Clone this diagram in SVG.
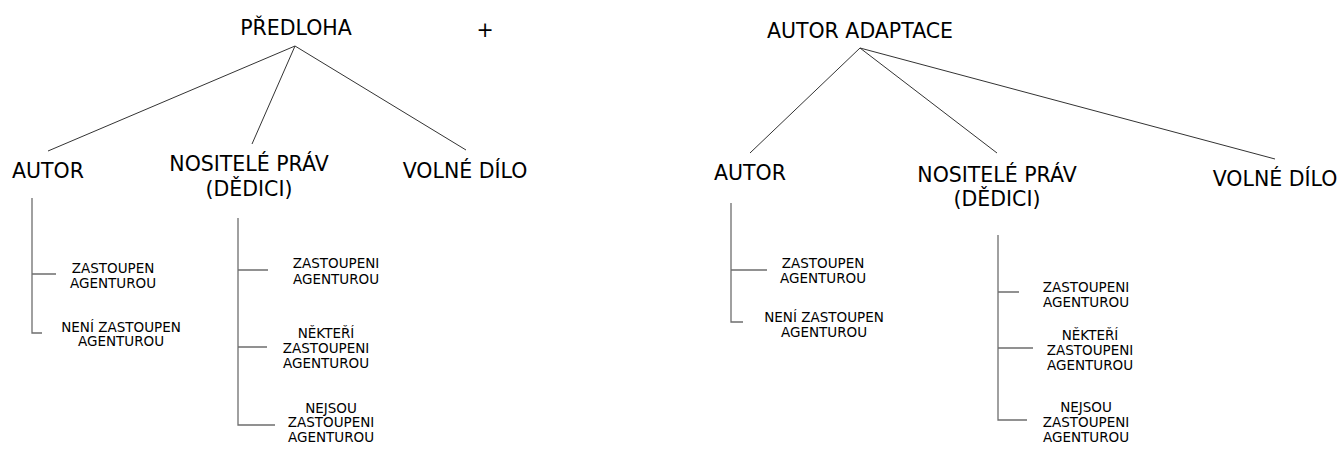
<svg xmlns="http://www.w3.org/2000/svg" width="1343" height="449" viewBox="0 0 1343 449">
<style>
.big{font-family:"DejaVu Sans","Liberation Sans",sans-serif;font-size:20.5px;fill:#000;text-anchor:middle}
.sm{font-family:"DejaVu Sans","Liberation Sans",sans-serif;font-size:13.5px;fill:#000;text-anchor:middle}
.tree{stroke:#333;stroke-width:1;fill:none}
.br{stroke:#6e6e6e;stroke-width:1.3;fill:none}
</style>
<rect width="1343" height="449" fill="#fff"/>
<g id="connectors">
<path class="tree" d="M295 46 L48 151 M295 46 L252 144 M295 46 L466 150"/>
<path class="tree" d="M860 48 L750 153 M860 48 L997 153 M860 48 L1275 159"/>
<path class="br" d="M32 198 V333 H42 M32 274 H56"/>
<path class="br" d="M238 218 V425 H275 M238 270 H268 M238 347 H267"/>
<path class="br" d="M731 203 V322 H743 M731 270 H767"/>
<path class="br" d="M998 235 V420 H1027 M998 292 H1019 M998 348 H1033"/>
</g>
<g id="predloha"><text class="big" x="296" y="35">PŘEDLOHA</text></g>
<g id="plus"><text class="big" x="485" y="37">+</text></g>
<g id="autor1"><text class="big" x="48" y="178">AUTOR</text></g>
<g id="nositele1"><text class="big" x="249" y="171">NOSITELÉ PRÁV</text><text class="big" x="249" y="196">(DĚDICI)</text></g>
<g id="volne1"><text class="big" x="465" y="178">VOLNÉ DÍLO</text></g>
<g id="a1z"><text class="sm" x="113" y="273">ZASTOUPEN</text><text class="sm" x="113" y="288">AGENTUROU</text></g>
<g id="a1n"><text class="sm" x="121" y="332">NENÍ ZASTOUPEN</text><text class="sm" x="121" y="346">AGENTUROU</text></g>
<g id="n1z"><text class="sm" x="336" y="268">ZASTOUPENI</text><text class="sm" x="336" y="284">AGENTUROU</text></g>
<g id="n1n"><text class="sm" x="326" y="338">NĚKTEŘÍ</text><text class="sm" x="326" y="353">ZASTOUPENI</text><text class="sm" x="326" y="368">AGENTUROU</text></g>
<g id="n1j"><text class="sm" x="331" y="413">NEJSOU</text><text class="sm" x="331" y="427">ZASTOUPENI</text><text class="sm" x="331" y="442">AGENTUROU</text></g>
<g id="adaptace"><text class="big" x="860" y="38">AUTOR ADAPTACE</text></g>
<g id="autor2"><text class="big" x="750" y="180">AUTOR</text></g>
<g id="nositele2"><text class="big" x="997" y="182">NOSITELÉ PRÁV</text><text class="big" x="997" y="206">(DĚDICI)</text></g>
<g id="volne2"><text class="big" x="1275" y="186">VOLNÉ DÍLO</text></g>
<g id="a2z"><text class="sm" x="823" y="268">ZASTOUPEN</text><text class="sm" x="823" y="283">AGENTUROU</text></g>
<g id="a2n"><text class="sm" x="824" y="322">NENÍ ZASTOUPEN</text><text class="sm" x="824" y="337">AGENTUROU</text></g>
<g id="n2z"><text class="sm" x="1086" y="292">ZASTOUPENI</text><text class="sm" x="1086" y="307">AGENTUROU</text></g>
<g id="n2n"><text class="sm" x="1090" y="340">NĚKTEŘÍ</text><text class="sm" x="1090" y="355">ZASTOUPENI</text><text class="sm" x="1090" y="370">AGENTUROU</text></g>
<g id="n2j"><text class="sm" x="1086" y="412">NEJSOU</text><text class="sm" x="1086" y="427">ZASTOUPENI</text><text class="sm" x="1086" y="442">AGENTUROU</text></g>
</svg>
